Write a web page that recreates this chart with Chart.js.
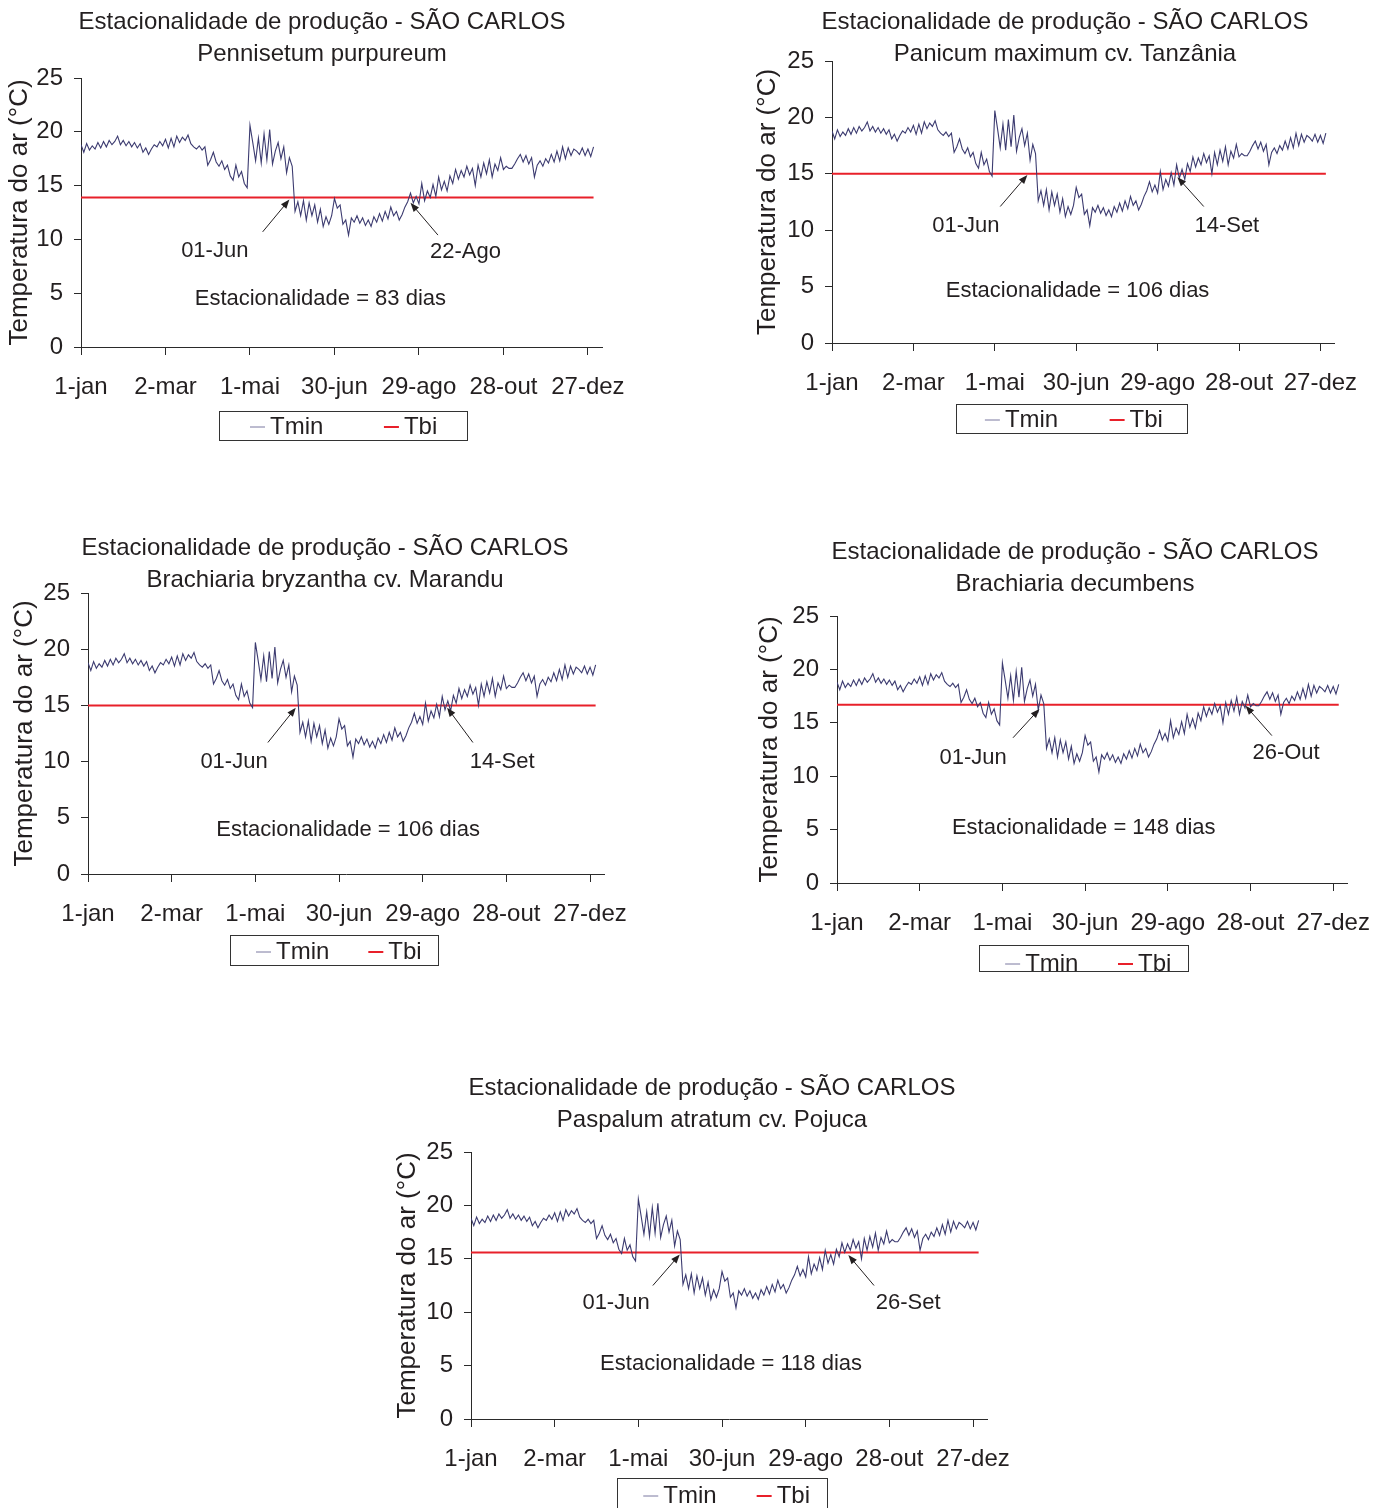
<!DOCTYPE html>
<html lang="pt-BR">
<head>
<meta charset="utf-8">
<title>Estacionalidade de produção - SÃO CARLOS</title>
<script src="https://cdn.jsdelivr.net/npm/chart.js@4.4.1/dist/chart.umd.min.js"></script>
<style>
  html, body { margin: 0; padding: 0; background: #fff; }
  body { width: 1389px; height: 1508px; position: relative; overflow: hidden; }
  canvas { position: absolute; }
</style>
</head>
<body>
<canvas id="g1"></canvas>
<canvas id="g2"></canvas>
<canvas id="g3"></canvas>
<canvas id="g4"></canvas>
<canvas id="g5"></canvas>
<script>
// eixo x: dia do ano (0 = 1-jan)
const tickDias = [0, 60, 120, 180, 240, 300, 360];
const tickRotulos = ['1-jan', '2-mar', '1-mai', '30-jun', '29-ago', '28-out', '27-dez'];

// Tmin (ºC), um valor a cada 2 dias
const tmin = [
  18.8, 18.1, 18.9, 18.3, 18.7, 18.4, 19.0, 18.5, 19.1, 18.6,
  19.2, 18.8, 19.1, 19.6, 18.8, 19.2, 18.7, 19.1, 18.6, 19.0,
  18.5, 18.9, 18.1, 18.5, 17.9, 18.4, 18.8, 18.6, 19.1, 18.7,
  19.3, 18.5, 19.4, 18.6, 19.6, 19.0, 19.5, 19.2, 19.7, 18.9,
  18.6, 18.4, 18.7, 18.3, 18.6, 16.9, 17.4, 18.1, 17.2, 16.8,
  17.3, 16.5, 16.9, 15.9, 15.5, 16.9, 15.8, 16.3, 15.2, 14.8,
  20.6, 19.0, 17.3, 19.4, 17.1, 19.8, 17.4, 20.2, 17.0, 18.2,
  19.0, 17.5, 18.6, 16.2, 17.6, 16.8, 12.6, 13.5, 12.2, 13.6,
  11.8, 13.4, 12.2, 13.2, 11.6, 12.8, 11.2, 12.1, 11.4, 12.2,
  13.8, 12.9, 13.2, 11.4, 11.8, 10.4, 12.0, 11.6, 12.2, 11.5,
  12.0, 11.3, 11.8, 11.2, 12.1, 11.6, 12.4, 11.7, 12.6, 11.9,
  13.0, 12.2, 12.6, 11.8, 12.3, 13.0, 13.5, 14.3, 13.4, 14.0,
  13.3, 15.2, 13.6, 14.5, 13.9, 15.1, 14.0, 15.8, 14.6, 15.4,
  14.5, 15.9, 15.2, 16.5, 15.6, 16.4, 15.8, 16.8, 16.0, 16.6,
  15.0, 16.9, 15.8, 17.1, 16.1, 17.4, 15.8, 17.0, 16.4, 17.6,
  16.5, 16.8, 16.6, 16.6, 17.0, 17.5, 17.9, 17.2, 17.8, 17.0,
  17.6, 15.8, 16.9, 17.3, 16.8, 17.5, 17.1, 17.9, 17.2, 18.2,
  17.3, 18.6, 17.5, 18.5, 17.8, 18.4, 18.2, 17.9, 18.5, 17.8,
  18.4, 17.7, 18.6
];

const especies = [
  'Pennisetum purpureum',
  'Panicum maximum cv. Tanzânia',
  'Brachiaria bryzantha cv. Marandu',
  'Brachiaria decumbens',
  'Paspalum atratum cv. Pojuca'
];
const tbi = [13.9, 15.0, 15.0, 16.7, 15.6];
const dataInicio = ['01-Jun', '01-Jun', '01-Jun', '01-Jun', '01-Jun'];
const dataFim = ['22-Ago', '14-Set', '14-Set', '26-Out', '26-Set'];
const diasEstacionalidade = [83, 106, 106, 148, 118];

const corTexto = '#231f20';
const corEixo = '#2a2a2a';
const corTmin = '#3c3b70';
const corTbi = '#e8202a';
const fonte = '"Liberation Sans", Arial, Helvetica, sans-serif';
Chart.defaults.font.family = fonte;

// posição de cada painel na página (px) e das notas (em coordenadas dos dados)
const paineis = [
  { canvas: {x: 0, y: 0, w: 690, h: 455}, plot: {l: 81, t: 78, r: 602, b: 347},
    tituloX: 322, tituloY: [22, 54], eixoYX: 20,
    legenda: {x: 219, y: 411, w: 248, h: 29, ty: 427},
    ini: {txt: [95, 8.9], de: [129, 10.7], para: [148, 13.7]},
    fim: {txt: [273, 8.8], de: [253.5, 10.4], para: [234, 13.4]},
    est: [170, 4.45] },
  { canvas: {x: 700, y: 0, w: 689, h: 455}, plot: {l: 832, t: 61, r: 1334, b: 343},
    tituloX: 1065, tituloY: [22, 54], eixoYX: 768,
    legenda: {x: 956, y: 404, w: 231, h: 29, ty: 420},
    ini: {txt: [98.7, 10.4], de: [124, 12.1], para: [144, 14.9]},
    fim: {txt: [291, 10.4], de: [274, 12.1], para: [254.6, 14.7]},
    est: [181, 4.6] },
  { canvas: {x: 0, y: 520, w: 690, h: 460}, plot: {l: 88, t: 593, r: 604, b: 874},
    tituloX: 325, tituloY: [548, 580], eixoYX: 25,
    legenda: {x: 230, y: 935, w: 208, h: 30, ty: 952},
    ini: {txt: [104.7, 10.0], de: [129, 11.7], para: [149, 14.8]},
    fim: {txt: [297, 10.0], de: [276, 11.7], para: [257.5, 14.8]},
    est: [186.5, 3.9] },
  { canvas: {x: 700, y: 520, w: 689, h: 470}, plot: {l: 837, t: 616, r: 1347, b: 883},
    tituloX: 1075, tituloY: [552, 584], eixoYX: 770,
    legenda: {x: 979, y: 945, w: 209, h: 26, ty: 964},
    ini: {txt: [98.7, 11.7], de: [127.7, 13.6], para: [146.9, 16.3]},
    fim: {txt: [325.8, 12.2], de: [315.5, 13.8], para: [296.4, 16.6]},
    est: [179, 5.2] },
  { canvas: {x: 350, y: 1050, w: 700, h: 458}, plot: {l: 471, t: 1152, r: 987, b: 1419},
    tituloX: 712, tituloY: [1088, 1120], eixoYX: 408,
    legenda: {x: 617, y: 1478, w: 210, h: 30, ty: 1496},
    ini: {txt: [104, 10.9], de: [130.4, 12.5], para: [149.7, 15.4]},
    fim: {txt: [313.5, 10.9], de: [289, 12.5], para: [270.6, 15.35]},
    est: [186.5, 5.2] }
];

function seta(ctx, x0, y0, x1, y1) {
  const a = Math.atan2(y1 - y0, x1 - x0), L = 9, W = 3.5;
  ctx.beginPath();
  ctx.moveTo(x0, y0);
  ctx.lineTo(x1 - L * 0.8 * Math.cos(a), y1 - L * 0.8 * Math.sin(a));
  ctx.stroke();
  ctx.beginPath();
  ctx.moveTo(x1, y1);
  ctx.lineTo(x1 - L * Math.cos(a) + W * Math.sin(a), y1 - L * Math.sin(a) - W * Math.cos(a));
  ctx.lineTo(x1 - L * Math.cos(a) - W * Math.sin(a), y1 - L * Math.sin(a) + W * Math.cos(a));
  ctx.closePath();
  ctx.fill();
}

// títulos, notas com setas e legenda em caixa
const desenhoExtra = {
  id: 'desenhoExtra',
  afterDraw(chart, args, opts) {
    const ctx = chart.ctx, p = opts.painel, i = opts.indice;
    const sx = chart.scales.x, sy = chart.scales.y;
    const ox = p.canvas.x, oy = p.canvas.y;
    const px = d => sx.getPixelForValue(d[0]);
    const py = d => sy.getPixelForValue(d[1]);
    ctx.save();
    ctx.fillStyle = corTexto;
    ctx.strokeStyle = corTexto;
    ctx.textAlign = 'center';
    ctx.textBaseline = 'middle';

    ctx.font = '24px ' + fonte;
    ctx.fillText('Estacionalidade de produção - SÃO CARLOS', p.tituloX - ox, p.tituloY[0] - oy);
    ctx.fillText(especies[i], p.tituloX - ox, p.tituloY[1] - oy);

    ctx.font = '22px ' + fonte;
    ctx.fillText(dataInicio[i], px(p.ini.txt), py(p.ini.txt));
    ctx.fillText(dataFim[i], px(p.fim.txt), py(p.fim.txt));
    ctx.fillText('Estacionalidade = ' + diasEstacionalidade[i] + ' dias', px(p.est), py(p.est));

    ctx.lineWidth = 1;
    seta(ctx, px(p.ini.de), py(p.ini.de), px(p.ini.para), py(p.ini.para));
    seta(ctx, px(p.fim.de), py(p.fim.de), px(p.fim.para), py(p.fim.para));

    // legenda
    const lg = p.legenda;
    const bx = lg.x - ox, by = lg.y - oy, ty = lg.ty - oy;
    ctx.strokeStyle = '#333';
    ctx.lineWidth = 1;
    ctx.strokeRect(Math.round(bx) + 0.5, Math.round(by) + 0.5, lg.w, lg.h);
    ctx.font = '24px ' + fonte;
    ctx.textAlign = 'left';
    const inicios = [0.125, 0.665];
    chart.data.datasets.forEach((ds, k) => {
      const x0 = bx + lg.w * inicios[k];
      ctx.strokeStyle = k === 0 ? '#7a79a0' : ds.borderColor;
      ctx.lineWidth = k === 0 ? 1 : ds.borderWidth;
      ctx.beginPath();
      ctx.moveTo(x0, ty);
      ctx.lineTo(x0 + 15, ty);
      ctx.stroke();
      ctx.fillStyle = corTexto;
      ctx.fillText(ds.label, x0 + 20, ty);
    });
    ctx.restore();
  }
};

paineis.forEach((p, i) => {
  const cv = document.getElementById('g' + (i + 1));
  cv.width = p.canvas.w;
  cv.height = p.canvas.h;
  cv.style.left = p.canvas.x + 'px';
  cv.style.top = p.canvas.y + 'px';

  const meiaLinha = 26 * 1.2 / 2;
  const padL = p.eixoYX - meiaLinha - p.canvas.x;
  const larguraY = p.plot.l - p.canvas.x - padL;
  const alturaX = 60;

  new Chart(cv, {
    type: 'line',
    data: {
      datasets: [
        {
          label: 'Tmin',
          data: tmin.map((v, k) => ({x: k * 2, y: v})),
          borderColor: corTmin,
          borderWidth: 1.1,
          pointRadius: 0,
          tension: 0
        },
        {
          label: 'Tbi',
          data: [{x: 0, y: tbi[i]}, {x: 364, y: tbi[i]}],
          borderColor: corTbi,
          borderWidth: 2,
          pointRadius: 0
        }
      ]
    },
    options: {
      responsive: false,
      animation: false,
      events: [],
      layout: {
        padding: {
          left: padL,
          top: p.plot.t - p.canvas.y,
          right: p.canvas.x + p.canvas.w - p.plot.r,
          bottom: p.canvas.y + p.canvas.h - p.plot.b - alturaX
        }
      },
      plugins: {
        legend: {display: false},
        tooltip: {enabled: false},
        desenhoExtra: {painel: p, indice: i}
      },
      scales: {
        x: {
          type: 'linear',
          min: 0,
          max: 370,
          afterBuildTicks: s => { s.ticks = tickDias.map(v => ({value: v})); },
          afterFit: s => { s.height = alturaX; s.paddingLeft = 0; s.paddingRight = 0; },
          ticks: {
            autoSkip: false,
            maxRotation: 0,
            padding: 18,
            color: corTexto,
            font: {size: 24},
            callback: v => tickRotulos[tickDias.indexOf(v)]
          },
          grid: {drawOnChartArea: false, tickLength: 8, color: corEixo},
          border: {color: corEixo}
        },
        y: {
          min: 0,
          max: 25,
          afterFit: s => { s.width = larguraY; s.paddingTop = 0; s.paddingBottom = 0; },
          ticks: {stepSize: 5, padding: 11, color: corTexto, font: {size: 24}},
          grid: {drawOnChartArea: false, tickLength: 7, color: corEixo},
          border: {color: corEixo},
          title: {
            display: true,
            text: 'Temperatura do ar (°C)',
            color: corTexto,
            font: {size: 26},
            padding: 0
          }
        }
      }
    },
    plugins: [desenhoExtra]
  });
});
</script>
</body>
</html>
